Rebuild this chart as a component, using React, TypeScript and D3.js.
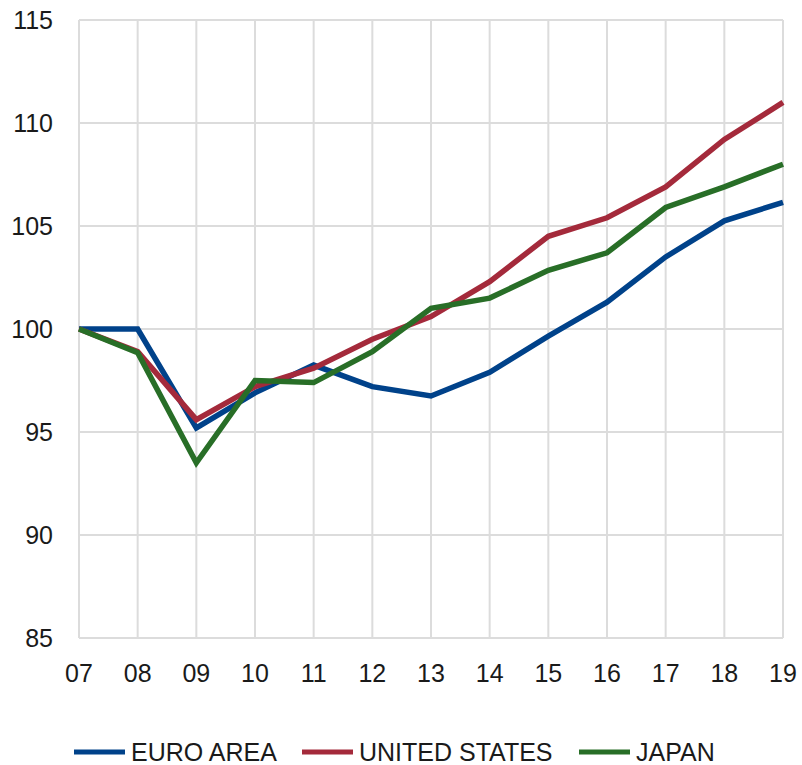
import React from 'react';
import * as d3 from 'd3';

// Index lines, 2007 = 100
const years = ['07', '08', '09', '10', '11', '12', '13', '14', '15', '16', '17', '18', '19'];
const euroArea = [100, 100, 95.2, 96.9, 98.25, 97.2, 96.75, 97.9, 99.65, 101.3, 103.5, 105.25, 106.15];
const unitedStates = [100, 98.9, 95.6, 97.2, 98.1, 99.5, 100.6, 102.3, 104.5, 105.4, 106.9, 109.2, 111.0];
const japan = [100, 98.85, 93.5, 97.5, 97.4, 98.9, 101.0, 101.5, 102.85, 103.7, 105.9, 106.9, 108.0];
const yTicks = [85, 90, 95, 100, 105, 110, 115];

const series = [
  { name: 'EURO AREA', values: euroArea, color: '#00428a' },
  { name: 'UNITED STATES', values: unitedStates, color: '#a42a3b' },
  { name: 'JAPAN', values: japan, color: '#286e27' },
];

const W = 802;
const H = 765;
const margin = { top: 20, right: 19, bottom: 127, left: 79 };
const font = '"Liberation Sans", Arial, Helvetica, sans-serif';

export default function App() {
  const x = d3.scalePoint<string>().domain(years).range([margin.left, W - margin.right]);
  const y = d3.scaleLinear().domain([85, 115]).range([H - margin.bottom, margin.top]);

  const line = d3
    .line<number>()
    .x((_, i) => x(years[i]) as number)
    .y((d) => y(d));

  // legend layout: swatch start x for each entry
  const legendX = [74, 302, 579];
  const legendY = 752;

  return (
    <svg
      width={W}
      height={H}
      style={{ position: 'absolute', left: 0, top: 0, background: '#fff', fontFamily: font }}
    >
      {/* grid */}
      <g stroke="#dcdcdc" strokeWidth={2}>
        {years.map((yr) => (
          <line key={yr} x1={x(yr)} x2={x(yr)} y1={y(115)} y2={y(85)} />
        ))}
        {yTicks.map((t) => (
          <line key={t} x1={x(years[0])} x2={x(years[years.length - 1])} y1={y(t)} y2={y(t)} />
        ))}
      </g>

      {/* y labels */}
      <g fontSize={25} fill="#1a1a1a" textAnchor="end">
        {yTicks.map((t) => (
          <text key={t} x={53} y={y(t)} dy="0.35em">
            {t}
          </text>
        ))}
      </g>

      {/* x labels */}
      <g fontSize={25} fill="#1a1a1a" textAnchor="middle">
        {years.map((yr) => (
          <text key={yr} x={x(yr)} y={682}>
            {yr}
          </text>
        ))}
      </g>

      {/* lines */}
      {series.map((s) => (
        <path
          key={s.name}
          d={line(s.values) || ''}
          fill="none"
          stroke={s.color}
          strokeWidth={5.5}
          strokeLinejoin="miter"
        />
      ))}

      {/* legend */}
      {series.map((s, i) => (
        <g key={s.name}>
          <line
            x1={legendX[i]}
            x2={legendX[i] + 51}
            y1={legendY}
            y2={legendY}
            stroke={s.color}
            strokeWidth={5}
          />
          <text x={legendX[i] + 57} y={legendY} dy="0.36em" fontSize={25} fill="#1a1a1a">
            {s.name}
          </text>
        </g>
      ))}
    </svg>
  );
}
